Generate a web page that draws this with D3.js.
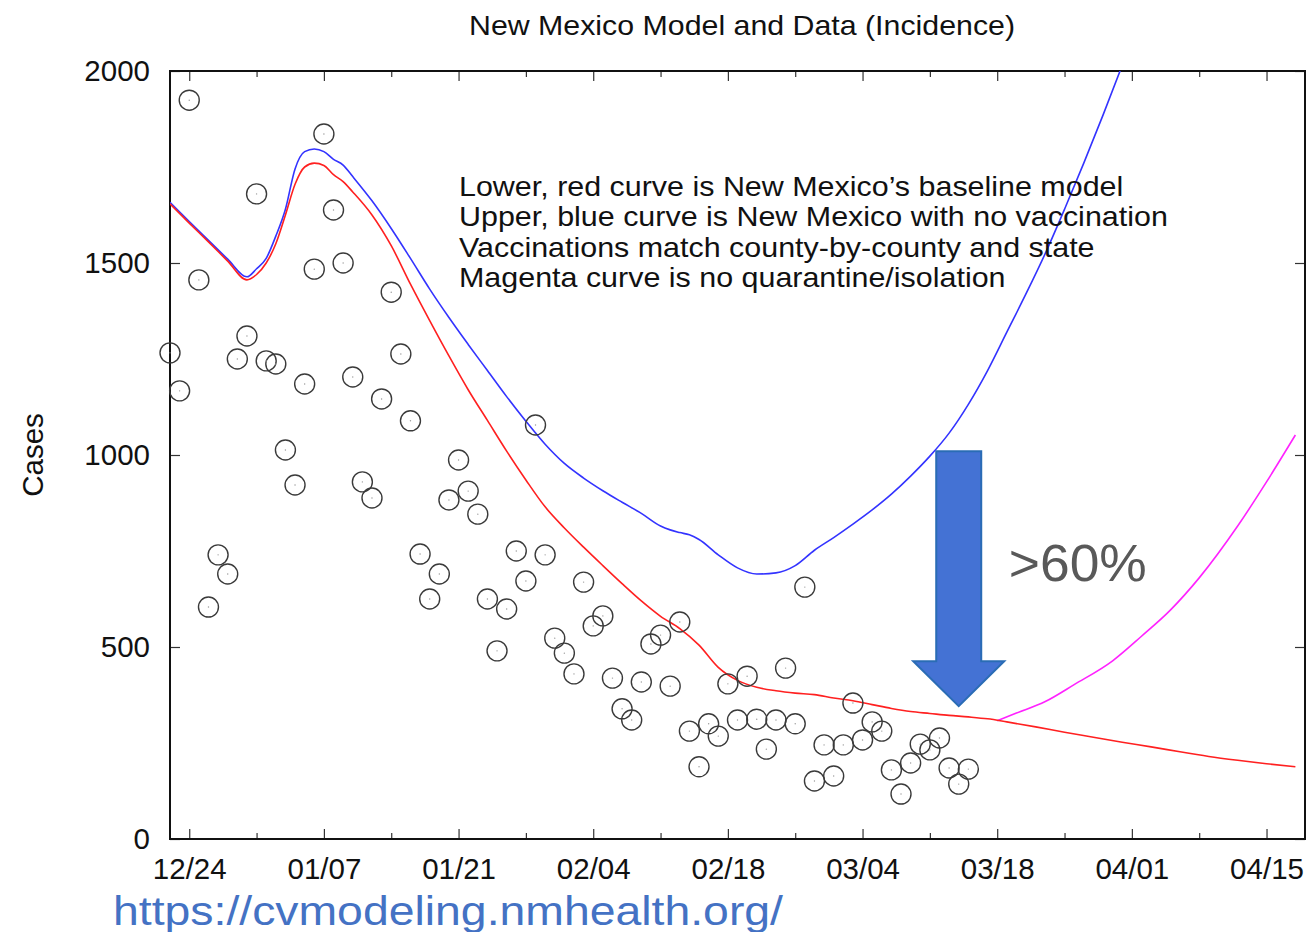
<!DOCTYPE html>
<html><head><meta charset="utf-8">
<script src="https://cdn.jsdelivr.net/npm/d3@7"></script>
<style>
body{margin:0;background:#fff}
svg{display:block}
text{font-family:"Liberation Sans",Arial,Helvetica,sans-serif}
</style>
</head><body>
<svg id="chart" width="1306" height="932"></svg>
<script>
// ---------------- data ----------------
const titleText = "New Mexico Model and Data (Incidence)";
const yLabel = "Cases";
const xTickLabels = ["2020-12-24","2021-01-07","2021-01-21","2021-02-04","2021-02-18","2021-03-04","2021-03-18","2021-04-01","2021-04-15"];
const xMinorTicks = ["2020-12-31","2021-01-14","2021-01-28","2021-02-11","2021-02-25","2021-03-11","2021-03-25","2021-04-08"];
const yTicks = [0, 500, 1000, 1500, 2000];

const obsDates = [
 "2020-12-22","2020-12-23","2020-12-24","2020-12-25","2020-12-26","2020-12-27","2020-12-28","2020-12-29","2020-12-30","2020-12-31",
 "2021-01-01","2021-01-02","2021-01-03","2021-01-04","2021-01-05","2021-01-06","2021-01-07","2021-01-08","2021-01-09","2021-01-10",
 "2021-01-11","2021-01-12","2021-01-13","2021-01-14","2021-01-15","2021-01-16","2021-01-17","2021-01-18","2021-01-19","2021-01-20",
 "2021-01-21","2021-01-22","2021-01-23","2021-01-24","2021-01-25","2021-01-26","2021-01-27","2021-01-28","2021-01-29","2021-01-30",
 "2021-01-31","2021-02-01","2021-02-02","2021-02-03","2021-02-04","2021-02-05","2021-02-06","2021-02-07","2021-02-08","2021-02-09",
 "2021-02-10","2021-02-11","2021-02-12","2021-02-13","2021-02-14","2021-02-15","2021-02-16","2021-02-17","2021-02-18","2021-02-19",
 "2021-02-20","2021-02-21","2021-02-22","2021-02-23","2021-02-24","2021-02-25","2021-02-26","2021-02-27","2021-02-28","2021-03-01",
 "2021-03-02","2021-03-03","2021-03-04","2021-03-05","2021-03-06","2021-03-07","2021-03-08","2021-03-09","2021-03-10","2021-03-11",
 "2021-03-12","2021-03-13","2021-03-14","2021-03-15"];
const obsCases = [
 1266,1167,1924,1456,604,740,690,1250,1310,1680,
 1245,1237,1013,922,1185,1484,1836,1638,1500,1203,
 930,888,1146,1424,1263,1089,742,625,690,883,
 987,906,846,625,490,599,750,672,1078,740,
 523,484,430,669,555,581,419,339,310,409,
 508,531,398,565,281,188,300,268,404,310,
 424,312,234,310,445,300,656,151,245,164,
 245,354,258,305,281,180,117,198,247,232,
 263,185,143,182];

const baseDates = [
 "2020-12-22","2020-12-24","2020-12-26","2020-12-28","2020-12-30","2020-12-31","2021-01-01","2021-01-02","2021-01-03","2021-01-04",
 "2021-01-05","2021-01-06","2021-01-07","2021-01-08","2021-01-09","2021-01-10","2021-01-12","2021-01-14","2021-01-16","2021-01-18",
 "2021-01-20","2021-01-22","2021-01-24","2021-01-26","2021-01-28","2021-01-30","2021-02-01","2021-02-03","2021-02-05","2021-02-07",
 "2021-02-09","2021-02-11","2021-02-13","2021-02-15","2021-02-17","2021-02-19","2021-02-21","2021-02-23","2021-02-25","2021-02-27",
 "2021-03-01","2021-03-03","2021-03-05","2021-03-07","2021-03-09","2021-03-11","2021-03-13","2021-03-15","2021-03-17","2021-03-19",
 "2021-03-22","2021-03-25","2021-03-28","2021-03-31","2021-04-03","2021-04-06","2021-04-09","2021-04-12","2021-04-15","2021-04-18"];
const baseCases = [
 1654,1604,1555,1505,1456,1470,1500,1550,1625,1705,
 1750,1760,1754,1730,1712,1685,1625,1545,1445,1350,
 1258,1170,1090,1010,935,865,810,760,712,665,
 620,580,548,505,447,413,395,386,380,376,
 367,360,350,340,332,327,322,318,313,305,
 292,278,265,252,240,227,215,205,196,188];

const noVaxDates = [
 "2020-12-22","2020-12-24","2020-12-26","2020-12-28","2020-12-30","2020-12-31","2021-01-01","2021-01-02","2021-01-03","2021-01-04",
 "2021-01-05","2021-01-06","2021-01-07","2021-01-08","2021-01-09","2021-01-10","2021-01-12","2021-01-14","2021-01-16","2021-01-18",
 "2021-01-20","2021-01-22","2021-01-24","2021-01-26","2021-01-28","2021-01-30","2021-02-01","2021-02-03","2021-02-05","2021-02-07",
 "2021-02-09","2021-02-11","2021-02-12","2021-02-13","2021-02-14","2021-02-15","2021-02-17","2021-02-19","2021-02-21","2021-02-23",
 "2021-02-25","2021-02-27","2021-03-01","2021-03-03","2021-03-05","2021-03-07","2021-03-09","2021-03-11","2021-03-13","2021-03-15",
 "2021-03-17","2021-03-19","2021-03-21","2021-03-23","2021-03-25","2021-03-27","2021-03-29","2021-03-31"];
const noVaxCases = [
 1658,1608,1559,1510,1464,1485,1512,1570,1640,1745,
 1790,1797,1790,1770,1755,1725,1662,1590,1512,1432,
 1358,1288,1220,1152,1088,1028,978,940,907,877,
 848,815,805,798,792,780,740,706,690,693,
 712,752,785,820,857,898,945,997,1057,1132,
 1220,1320,1420,1525,1640,1760,1885,2015];

const noQuarDates = ["2021-03-18","2021-03-20","2021-03-23","2021-03-26","2021-03-30","2021-04-02","2021-04-05","2021-04-08","2021-04-12","2021-04-15","2021-04-18"];
const noQuarCases = [308,328,358,402,464,528,596,680,815,930,1052];

const noteLines = [
 "Lower, red curve is New Mexico\u2019s baseline model",
 "Upper, blue curve is New Mexico with no vaccination",
 "Vaccinations match county-by-county and state",
 "Magenta curve is no quarantine/isolation"];
const arrowNote = {date: "2021-03-14", from: 1010, to: 346};
const pctLabel = ">60%";
const pctAt = {date: "2021-03-19", value: 672};
const sourceUrl = "https://cvmodeling.nmhealth.org/";

// ---------------- scales ----------------
const parse = d3.utcParse("%Y-%m-%d");
const svg = d3.select("#chart");
const L = 170, R = 1305, T = 71, B = 839;
const x = d3.scaleUtc().domain([parse("2020-12-22"), parse("2021-04-19")]).range([L, R]);
const y = d3.scaleLinear().domain([0, 2000]).range([B, T]);

svg.append("defs").append("clipPath").attr("id","plotclip")
  .append("rect").attr("x", L).attr("y", T).attr("width", R - L).attr("height", B - T);

// title
svg.append("text").attr("x", 742).attr("y", 35).attr("text-anchor","middle")
  .attr("font-size", 28).attr("textLength", 546).attr("lengthAdjust","spacingAndGlyphs")
  .attr("fill","#111").text(titleText);

// axes
const fmt = d3.utcFormat("%m/%d");
const axBottom = d3.axisBottom(x).tickValues(xTickLabels.map(parse)).tickFormat(fmt)
  .tickSizeInner(-10).tickSizeOuter(0).tickPadding(19);
const gB = svg.append("g").attr("transform", `translate(0,${B})`).call(axBottom);
gB.selectAll("text").attr("font-size", 29.5).attr("fill","#111");

const axBottomMinor = d3.axisBottom(x).tickValues(xMinorTicks.map(parse)).tickFormat("")
  .tickSizeInner(-6).tickSizeOuter(0);
svg.append("g").attr("transform", `translate(0,${B})`).call(axBottomMinor);

const axTop = d3.axisTop(x).tickValues(xTickLabels.map(parse)).tickFormat("").tickSizeInner(-10).tickSizeOuter(0);
svg.append("g").attr("transform", `translate(0,${T})`).call(axTop);
const axTopMinor = d3.axisTop(x).tickValues(xMinorTicks.map(parse)).tickFormat("").tickSizeInner(-6).tickSizeOuter(0);
svg.append("g").attr("transform", `translate(0,${T})`).call(axTopMinor);

const axLeft = d3.axisLeft(y).tickValues(yTicks).tickFormat(d3.format("d")).tickSizeInner(-10).tickSizeOuter(0).tickPadding(20);
const gL = svg.append("g").attr("transform", `translate(${L},0)`).call(axLeft);
gL.selectAll("text").attr("font-size", 29.5).attr("fill","#111");

const axRight = d3.axisRight(y).tickValues(yTicks).tickFormat("").tickSizeInner(-10).tickSizeOuter(0);
svg.append("g").attr("transform", `translate(${R},0)`).call(axRight);

svg.selectAll(".domain").remove();
svg.selectAll(".tick line").attr("stroke","#333").attr("stroke-width",1.2);

// frame
svg.append("rect").attr("x", L).attr("y", T).attr("width", R - L).attr("height", B - T)
  .attr("fill","none").attr("stroke","#111").attr("stroke-width",2);

// y label
svg.append("text").attr("transform", `translate(43,${(T + B) / 2}) rotate(-90)`)
  .attr("text-anchor","middle").attr("font-size", 29.5).attr("fill","#111").text(yLabel);

// curves
const plot = svg.append("g").attr("clip-path","url(#plotclip)");
const line = d3.line().x(d => x(d[0])).y(d => y(d[1])).curve(d3.curveMonotoneX);
const series = [
  {dates: noQuarDates, vals: noQuarCases, color: "#ff22ff"},
  {dates: noVaxDates, vals: noVaxCases, color: "#3333ff"},
  {dates: baseDates, vals: baseCases, color: "#ff2020"}];
series.forEach(s => {
  plot.append("path").datum(s.dates.map((d, i) => [parse(d), s.vals[i]]))
    .attr("fill","none").attr("stroke", s.color).attr("stroke-width", 1.6).attr("d", line);
});

// observed data
const obs = obsDates.map((d, i) => [parse(d), obsCases[i]]);
const pts = svg.append("g");
pts.selectAll("circle.o").data(obs).join("circle").attr("class","o")
  .attr("cx", d => x(d[0])).attr("cy", d => y(d[1])).attr("r", 10)
  .attr("fill","none").attr("stroke","#3a3a3a").attr("stroke-width",1.4);
pts.selectAll("circle.c").data(obs).join("circle").attr("class","c")
  .attr("cx", d => x(d[0])).attr("cy", d => y(d[1])).attr("r", 0.7)
  .attr("fill","#999");

// notes
const notes = svg.append("text").attr("x", 459).attr("y", 196).attr("font-size", 28).attr("fill","#111");
notes.selectAll("tspan").data(noteLines).join("tspan")
  .attr("x", 459).attr("dy", (d, i) => i === 0 ? 0 : 30.3).text(d => d)
  .each(function() {
    const w = this.getComputedTextLength();
    d3.select(this).attr("textLength", w * 1.087).attr("lengthAdjust","spacingAndGlyphs");
  });

// arrow annotation
const ax = x(parse(arrowNote.date));
const y0 = y(arrowNote.from), y1 = y(arrowNote.to);
const sw = 22.5, hw = 45.5, hh = 45;
const arrowPath = d3.path();
arrowPath.moveTo(ax - sw, y0); arrowPath.lineTo(ax + sw, y0); arrowPath.lineTo(ax + sw, y1 - hh);
arrowPath.lineTo(ax + hw, y1 - hh); arrowPath.lineTo(ax, y1); arrowPath.lineTo(ax - hw, y1 - hh);
arrowPath.lineTo(ax - sw, y1 - hh); arrowPath.closePath();
svg.append("path").attr("d", arrowPath.toString()).attr("fill","#4472d4").attr("stroke","#2a6cb5").attr("stroke-width",2);

svg.append("text").attr("x", x(parse(pctAt.date)) + 2).attr("y", y(pctAt.value))
  .attr("font-family","'Open Sans','Noto Sans',sans-serif").attr("font-size", 52)
  .attr("textLength", 138).attr("lengthAdjust","spacingAndGlyphs")
  .attr("fill","#595959").text(pctLabel);

svg.append("text").attr("x", 113).attr("y", 925)
  .attr("font-family","'Open Sans','Noto Sans',sans-serif").attr("font-size", 40)
  .attr("textLength", 670).attr("lengthAdjust","spacingAndGlyphs")
  .attr("fill","#4472c4").text(sourceUrl);
</script>
</body></html>
